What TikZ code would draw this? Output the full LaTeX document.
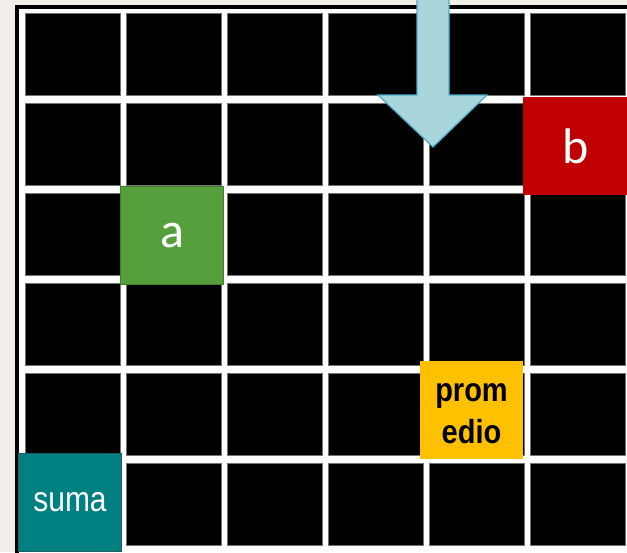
\documentclass[tikz,border=0pt]{standalone}
\usepackage{fontspec}
\setmainfont{Liberation Sans}
\newfontfamily\calfont{Carlito}
\begin{document}
\begin{tikzpicture}[x=1pt,y=-1pt,
  cell/.style={fill=black,draw=black!55,line width=0.8pt,minimum width=95pt,minimum height=82pt,anchor=north west,inner sep=0pt,outer sep=0pt},
  tile/.style={anchor=north west,inner sep=0pt,outer sep=0pt,minimum width=103pt,minimum height=98pt,align=center},
  bigletter/.style={text=white,font=\calfont\fontsize{50}{50}\selectfont},
]
\definecolor{paper}{HTML}{F2EFEA}
\definecolor{agreen}{HTML}{55A03C}
\definecolor{agreenedge}{HTML}{447F30}
\definecolor{bred}{HTML}{C00000}
\definecolor{pgold}{HTML}{FFC000}
\definecolor{steal}{HTML}{008080}
\definecolor{stealedge}{HTML}{1E5E5E}
\definecolor{arrowfill}{HTML}{A9D5DD}
\definecolor{arrowedge}{HTML}{4BACC6}

% page and board frame
\useasboundingbox (0,0) rectangle (627,552);
\fill[paper] (0,0) rectangle (627,552);
\fill[black] (15,5) rectangle (640,570);
\fill[white] (19,9) rectangle (640,570);

% 6 x 6 board of black cells
\foreach \i in {0,...,5}{
  \foreach \j in {0,...,5}{
    \node[cell] (c-\i-\j) at ({25+101*\i},{13+90*\j}) {};
  }
}

% coloured tiles
\node[tile,fill=agreen,draw=agreenedge,line width=1.2pt,bigletter] (a) at (120.5,186.5) {a};
\node[tile,fill=bred,bigletter,minimum width=106pt] (b) at (523,97) {b};
\node[tile,fill=pgold] (prom) at (420,361) {};
\node[align=center,inner sep=0pt,font=\bfseries\fontsize{29}{36}\selectfont] (prom-text)
  at ([yshift=-4pt]prom.center)
  {\scalebox{1}[1.15]{prom}\\[6pt]\scalebox{1}[1.15]{edio}};
\node[tile,fill=steal,draw=stealedge,line width=1.2pt,text=white,font=\fontsize{30}{30}\selectfont] (suma) at (18.5,453.5)
  {\scalebox{1}[1.18]{suma}};

% downward block arrow
\filldraw[fill=arrowfill,draw=arrowedge,line width=1.2pt,line join=miter]
  (417,-5) -- (417,95) -- (378,95) -- (433,147) -- (487,95) -- (449,95) -- (449,-5) -- cycle;
\end{tikzpicture}
\end{document}
